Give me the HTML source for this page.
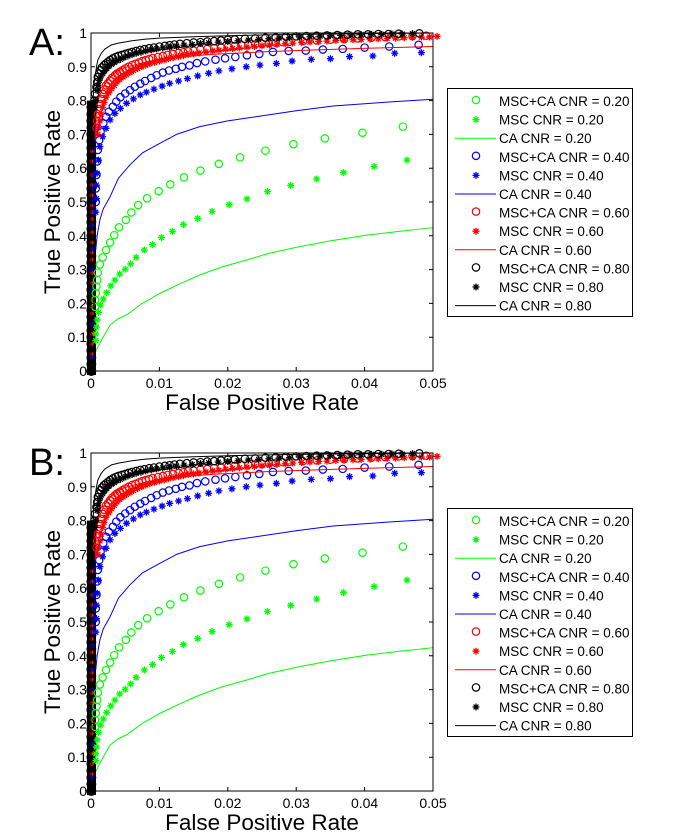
<!DOCTYPE html>
<html><head><meta charset="utf-8"><style>
html,body{margin:0;padding:0;background:#fff;}
svg{display:block;font-family:"Liberation Sans",Arial,sans-serif;}
</style></head><body>
<svg id="chart" width="700" height="840" viewBox="0 0 700 840" xmlns="http://www.w3.org/2000/svg"></svg>
<script>
// ---- data (FPR, TPR) ----
const xTicks = [0, 0.01, 0.02, 0.03, 0.04, 0.05];
const xTickLabels = ["0", "0.01", "0.02", "0.03", "0.04", "0.05"];
const yTicks = [0,0.1,0.2,0.3,0.4,0.5,0.6,0.7,0.8,0.9,1];
const yTickLabels = ["0","0.1","0.2","0.3","0.4","0.5","0.6","0.7","0.8","0.9","1"];
const legendLabels = ["MSC+CA CNR = 0.20","MSC CNR = 0.20","CA CNR = 0.20","MSC+CA CNR = 0.40","MSC CNR = 0.40","CA CNR = 0.40","MSC+CA CNR = 0.60","MSC CNR = 0.60","CA CNR = 0.60","MSC+CA CNR = 0.80","MSC CNR = 0.80","CA CNR = 0.80"];

const g20Circ = [[0.0456,0.723],[0.0397,0.705],[0.0342,0.688],[0.0296,0.671],[0.0255,0.652],[0.0218,0.632],[0.0187,0.613],[0.016,0.593],[0.0136,0.573],[0.0116,0.552],[0.0099,0.532],[0.0082,0.511],[0.0069,0.491],[0.0059,0.469],[0.0051,0.447],[0.0041,0.425],[0.0034,0.402],[0.0028,0.38],[0.0022,0.358],[0.0017,0.336],[0.0013,0.315],[0.001,0.291],[0.0009,0.269],[0.0008,0.25],[0.0007,0.23],[0.0006,0.21],[0.0006,0.19]];
const g20Star = [[0.0462,0.624],[0.0414,0.605],[0.0369,0.587],[0.033,0.568],[0.0292,0.549],[0.0258,0.531],[0.0228,0.509],[0.0202,0.492],[0.0177,0.472],[0.0156,0.451],[0.0135,0.433],[0.0119,0.413],[0.0103,0.395],[0.009,0.374],[0.0078,0.358],[0.0066,0.336],[0.0058,0.317],[0.005,0.301],[0.0042,0.287],[0.0035,0.269],[0.0029,0.252],[0.0023,0.232],[0.0018,0.213],[0.0014,0.195],[0.0011,0.173],[0.0009,0.151],[0.0008,0.13],[0.0007,0.11],[0.0007,0.09]];
const g20Line = [[0.0008,0.062],[0.0015,0.09],[0.0028,0.136],[0.004,0.155],[0.0052,0.166],[0.0075,0.2],[0.0101,0.23],[0.013,0.258],[0.0159,0.284],[0.019,0.307],[0.0227,0.328],[0.026,0.348],[0.0305,0.368],[0.035,0.385],[0.0403,0.402],[0.045,0.413],[0.05,0.424]];
const b40Circ = [[0.0479,0.965],[0.0436,0.96],[0.04,0.957],[0.0368,0.953],[0.0339,0.951],[0.0314,0.948],[0.0289,0.947],[0.0266,0.944],[0.0246,0.938],[0.0228,0.934],[0.0211,0.929],[0.0196,0.925],[0.0182,0.921],[0.0167,0.916],[0.0155,0.911],[0.0144,0.904],[0.0133,0.9],[0.0124,0.894],[0.0114,0.889],[0.0105,0.883],[0.0096,0.875],[0.0088,0.867],[0.0079,0.858],[0.0072,0.85],[0.0064,0.841],[0.0057,0.831],[0.005,0.821],[0.0043,0.81],[0.0037,0.797],[0.0032,0.782],[0.0026,0.767],[0.0022,0.752],[0.0018,0.733],[0.0014,0.708],[0.0012,0.683],[0.001,0.654],[0.0009,0.62],[0.0008,0.58],[0.0007,0.54],[0.0007,0.5]];
const b40Star = [[0.0483,0.942],[0.0444,0.94],[0.0412,0.932],[0.0378,0.93],[0.035,0.924],[0.0322,0.922],[0.0294,0.917],[0.0271,0.91],[0.0247,0.905],[0.0227,0.9],[0.0206,0.894],[0.0187,0.888],[0.0172,0.881],[0.0156,0.873],[0.0141,0.865],[0.0128,0.858],[0.0115,0.851],[0.0104,0.843],[0.0092,0.834],[0.0081,0.825],[0.0072,0.817],[0.0062,0.805],[0.0052,0.792],[0.0043,0.777],[0.0035,0.762],[0.0028,0.743],[0.0022,0.718],[0.0017,0.693],[0.0013,0.664],[0.0011,0.624],[0.0009,0.585],[0.0008,0.55],[0.0008,0.51],[0.0007,0.47]];
const b40Line = [[0.0007,0.36],[0.0009,0.4],[0.0013,0.447],[0.0018,0.48],[0.0028,0.516],[0.004,0.57],[0.0057,0.61],[0.0075,0.645],[0.0101,0.674],[0.0125,0.7],[0.0159,0.723],[0.02,0.74],[0.0257,0.757],[0.03,0.77],[0.0354,0.784],[0.043,0.795],[0.05,0.804]];
const r60Circ = [[0.0008,0.72],[0.0009,0.74],[0.001,0.76],[0.0011,0.775],[0.0013,0.79],[0.0015,0.805],[0.0017,0.82],[0.0019,0.832],[0.0022,0.845],[0.0025,0.852],[0.0028,0.86],[0.0031,0.868],[0.0035,0.875],[0.0038,0.88],[0.0042,0.885],[0.0046,0.89],[0.005,0.895],[0.0055,0.9],[0.006,0.905],[0.0065,0.909],[0.007,0.913],[0.0075,0.917],[0.008,0.92],[0.0085,0.923],[0.009,0.926],[0.0098,0.929],[0.0105,0.932],[0.0112,0.935],[0.012,0.938],[0.0128,0.941],[0.0135,0.943],[0.0142,0.946],[0.015,0.948],[0.016,0.951],[0.017,0.953],[0.018,0.955],[0.019,0.957],[0.02,0.959],[0.021,0.961],[0.022,0.963],[0.023,0.965],[0.024,0.967],[0.025,0.968],[0.026,0.97],[0.027,0.971],[0.028,0.973],[0.029,0.974],[0.031,0.976],[0.033,0.978],[0.035,0.98],[0.037,0.982],[0.039,0.984],[0.041,0.986],[0.043,0.988],[0.045,0.99],[0.047,0.991],[0.049,0.992]];
const r60Star = [[0.001,0.7],[0.0011,0.72],[0.0013,0.74],[0.0015,0.76],[0.0017,0.78],[0.0019,0.795],[0.0022,0.81],[0.0026,0.823],[0.003,0.835],[0.0034,0.845],[0.0038,0.855],[0.0042,0.863],[0.0047,0.87],[0.0052,0.877],[0.0057,0.883],[0.0062,0.889],[0.0068,0.895],[0.0074,0.9],[0.008,0.905],[0.0086,0.909],[0.0093,0.913],[0.01,0.917],[0.0107,0.92],[0.0113,0.924],[0.012,0.927],[0.0128,0.93],[0.0135,0.933],[0.0142,0.936],[0.015,0.938],[0.0158,0.941],[0.0168,0.944],[0.0178,0.947],[0.0187,0.949],[0.0197,0.952],[0.0207,0.954],[0.0217,0.956],[0.0228,0.958],[0.0239,0.96],[0.025,0.962],[0.0261,0.964],[0.0272,0.966],[0.0284,0.968],[0.0295,0.97],[0.0308,0.972],[0.032,0.973],[0.0333,0.975],[0.0345,0.976],[0.0358,0.978],[0.037,0.979],[0.0383,0.98],[0.0395,0.981],[0.0408,0.982],[0.042,0.983],[0.0433,0.984],[0.0445,0.985],[0.0458,0.986],[0.047,0.987],[0.0483,0.988],[0.0495,0.988],[0.0506,0.99]];
const r60Line = [[0.0006,0.683],[0.0008,0.772],[0.001,0.8],[0.0018,0.841],[0.0025,0.862],[0.0037,0.886],[0.005,0.898],[0.0072,0.91],[0.01,0.922],[0.0135,0.93],[0.018,0.937],[0.0257,0.945],[0.033,0.95],[0.0403,0.955],[0.05,0.96]];
const k80Circ = [[0.0005,0.8],[0.0006,0.82],[0.0008,0.84],[0.0009,0.855],[0.001,0.87],[0.0012,0.88],[0.0014,0.89],[0.0016,0.898],[0.0019,0.905],[0.0022,0.91],[0.0025,0.915],[0.0028,0.92],[0.0032,0.925],[0.0036,0.929],[0.004,0.932],[0.0045,0.935],[0.005,0.938],[0.0055,0.941],[0.006,0.944],[0.0066,0.947],[0.0072,0.95],[0.0078,0.952],[0.0085,0.955],[0.0092,0.957],[0.01,0.96],[0.0108,0.962],[0.0115,0.964],[0.0122,0.966],[0.013,0.968],[0.014,0.97],[0.015,0.972],[0.016,0.973],[0.017,0.975],[0.018,0.976],[0.019,0.978],[0.02,0.98],[0.021,0.981],[0.0225,0.983],[0.024,0.984],[0.0255,0.986],[0.027,0.987],[0.0285,0.989],[0.03,0.99],[0.0315,0.991],[0.033,0.992],[0.0345,0.993],[0.036,0.994],[0.0375,0.995],[0.039,0.996],[0.0405,0.996],[0.042,0.997],[0.0435,0.997],[0.045,0.998],[0.048,0.999]];
const k80Star = [[0.0006,0.78],[0.0007,0.8],[0.0009,0.83],[0.001,0.845],[0.0012,0.86],[0.0014,0.87],[0.0017,0.88],[0.002,0.888],[0.0023,0.895],[0.0026,0.902],[0.003,0.908],[0.0034,0.913],[0.0038,0.918],[0.0043,0.922],[0.0048,0.927],[0.0054,0.932],[0.006,0.936],[0.0066,0.94],[0.0073,0.943],[0.008,0.947],[0.0088,0.95],[0.0096,0.953],[0.0105,0.956],[0.0115,0.958],[0.0125,0.961],[0.0136,0.964],[0.0148,0.966],[0.016,0.969],[0.0172,0.971],[0.0186,0.973],[0.02,0.975],[0.0215,0.977],[0.023,0.979],[0.0245,0.981],[0.026,0.983],[0.0275,0.985],[0.029,0.986],[0.0305,0.988],[0.032,0.989],[0.0335,0.991],[0.035,0.992],[0.0365,0.993],[0.038,0.994],[0.0395,0.995],[0.041,0.996],[0.0425,0.996],[0.044,0.997],[0.0455,0.997],[0.047,0.998]];
const k80Line = [[0.0003,0.8],[0.0005,0.86],[0.0008,0.9],[0.001,0.92],[0.0015,0.94],[0.002,0.952],[0.003,0.965],[0.004,0.97],[0.006,0.977],[0.008,0.982],[0.01,0.985],[0.015,0.989],[0.02,0.992],[0.03,0.996],[0.05,1]];
const nearZeroBlackY = [0,0.02,0.04,0.06,0.08,0.1,0.12,0.14,0.16,0.18,0.2,0.22,0.24,0.26,0.28,0.3,0.32,0.34,0.36,0.38,0.4,0.42,0.44,0.46,0.48,0.5,0.52,0.54,0.56,0.58,0.6,0.62,0.64,0.66,0.68,0.7,0.72,0.74,0.76,0.78];
const nearZeroRedY = [0.05,0.08,0.11,0.14,0.17,0.19,0.21,0.24,0.26,0.29,0.33,0.35,0.38,0.41,0.43,0.45,0.47,0.49,0.52,0.55,0.58,0.62,0.65];
const nearZeroBlueY = [0.04,0.14,0.24,0.3,0.36,0.43];

const series = [
 {name:"msc-ca-cnr-020", color:"#00ff00", type:"circle", data:g20Circ},
 {name:"msc-cnr-020", color:"#00ff00", type:"star", data:g20Star},
 {name:"ca-cnr-020", color:"#00ff00", type:"line", data:g20Line},
 {name:"msc-ca-cnr-040", color:"#0000ff", type:"circle", data:b40Circ},
 {name:"msc-cnr-040", color:"#0000ff", type:"star", data:b40Star},
 {name:"ca-cnr-040", color:"#0000ff", type:"line", data:b40Line},
 {name:"msc-ca-cnr-060", color:"#ff0000", type:"circle", data:r60Circ},
 {name:"msc-cnr-060", color:"#ff0000", type:"star", data:r60Star},
 {name:"ca-cnr-060", color:"#ff0000", type:"line", data:r60Line},
 {name:"msc-ca-cnr-080", color:"#000000", type:"circle", data:k80Circ},
 {name:"msc-cnr-080", color:"#000000", type:"star", data:k80Star},
 {name:"ca-cnr-080", color:"#000000", type:"line", data:k80Line}
];

const NS = "http://www.w3.org/2000/svg";
const svg = document.getElementById("chart");
function mk(tag, attrs, parent){const e=document.createElementNS(NS,tag);for(const k in attrs)e.setAttribute(k,attrs[k]);parent.appendChild(e);return e;}

function drawStar(g,cx,cy,color,s){
  return mk("path",{d:`M${cx-s} ${cy}H${cx+s}M${cx} ${cy-s}V${cy+s}M${cx-s*0.7} ${cy-s*0.7}L${cx+s*0.7} ${cy+s*0.7}M${cx-s*0.7} ${cy+s*0.7}L${cx+s*0.7} ${cy-s*0.7}`,stroke:color,"stroke-width":1.3,fill:"none"},g);
}
function drawCircle(g,cx,cy,color){return mk("circle",{cx:cx,cy:cy,r:3.7,stroke:color,"stroke-width":1.2,fill:"none"},g);}

function drawPanel(dy, letter){
  const L=91,R=433,T=33+dy,B=371+dy;
  const xs=v=>L+(v/0.05)*(R-L);
  const ys=v=>B-v*(B-T);
  const panel=mk("g",{},svg);
  
  
  const lab=mk("text",{x:29,y:55+dy,"font-size":38,fill:"#000"},panel);
  lab.textContent=letter+":";
  
  
  const plot=mk("g",{},panel);
  
  
  mk("rect",{x:87,y:ys(0.8),width:9,height:B-ys(0.8)+4,fill:"#000"},plot);
  nearZeroBlackY.forEach(v=>{const c=drawCircle(plot,xs(0.00005),ys(v),"#000");c.setAttribute("stroke-width",2.5);});
  nearZeroRedY.forEach(v=>{const c=drawStar(plot,xs(0.0001),ys(v),"#ff0000",2);});
  nearZeroBlueY.forEach(v=>{const c=drawStar(plot,xs(0.0001),ys(v),"#0000ff",2);});
  series.forEach(s=>{
    const g=mk("g",{},plot);
    
    
    if(s.type==="line"){
      const pl=mk("polyline",{points:s.data.map(d=>xs(d[0])+","+ys(d[1])).join(" "),fill:"none",stroke:s.color,"stroke-width":1,"stroke-linejoin":"round"},g);
      
      
    } else {
      s.data.forEach(d=>{
        const m = s.type==="circle"?drawCircle(g,xs(d[0]),ys(d[1]),s.color):drawStar(g,xs(d[0]),ys(d[1]),s.color,3.5);
        
        
      });
    }
  });
  const box=mk("rect",{x:L,y:T,width:R-L,height:B-T,fill:"none",stroke:"#000","stroke-width":1},panel);
  
  
  xTicks.forEach((v,i)=>{
    const x=xs(v);
    mk("path",{d:`M${x} ${B}V${B-4}M${x} ${T}V${T+4}`,stroke:"#000","stroke-width":1},panel);
    const t=mk("text",{x:x,y:B+17,"font-size":14,"text-anchor":"middle",fill:"#000"},panel);
    t.textContent=xTickLabels[i];
    
    
  });
  yTicks.forEach((v,i)=>{
    const y=ys(v);
    mk("path",{d:`M${L} ${y}H${L+4}M${R} ${y}H${R-4}`,stroke:"#000","stroke-width":1},panel);
    const t=mk("text",{x:L-4,y:y+5,"font-size":14,"text-anchor":"end",fill:"#000"},panel);
    t.textContent=yTickLabels[i];
    
    
  });
  const xt=mk("text",{x:(L+R)/2,y:410+dy,"font-size":22.5,"text-anchor":"middle",fill:"#000"},panel);
  xt.textContent="False Positive Rate";
  
  
  const yt=mk("text",{x:0,y:0,"font-size":22.5,"text-anchor":"middle",fill:"#000",transform:`translate(60,${(T+B)/2}) rotate(-90)`},panel);
  yt.textContent="True Positive Rate";
  
  
  const lg=mk("g",{},panel);
  
  
  mk("rect",{x:447.5,y:88.5+dy,width:185,height:228,fill:"#fff",stroke:"#000","stroke-width":1},lg);
  series.forEach((s,i)=>{
    const y=100+dy+i*18.6;
    const e=mk("g",{},lg);
    
    
    if(s.type==="line") mk("line",{x1:455,y1:y+1,x2:496,y2:y+1,stroke:s.color,"stroke-width":1},e);
    else if(s.type==="circle") drawCircle(e,476,y,s.color);
    else drawStar(e,476,y+1,s.color,3.5);
    const t=mk("text",{x:499,y:y+6,"font-size":13.5,fill:"#000"},e);
    t.textContent=legendLabels[i];
  });
}
drawPanel(0,"A");
drawPanel(420,"B");
</script>
</body></html>
